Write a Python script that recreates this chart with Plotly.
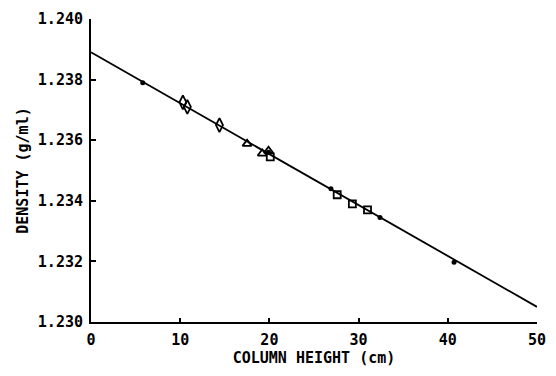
import plotly.graph_objects as go

# fitted line endpoints
line_x = [0, 50]
line_y = [1.2389, 1.2305]

# small filled dots
dot_x = [5.8, 19.9, 26.9, 32.4, 40.7]
dot_y = [1.2379, 1.23560, 1.2344, 1.23345, 1.23197]

# open diamonds
dia_x = [10.3, 10.8, 14.4]
dia_y = [1.23725, 1.2371, 1.2365]

# open triangles
tri_x = [17.5, 19.2, 19.9]
tri_y = [1.23588, 1.23556, 1.23565]

# open squares
sq_x = [20.1, 27.6, 29.3, 31.0]
sq_y = [1.23545, 1.2342, 1.2339, 1.2337]

x_ticks = [0, 10, 20, 30, 40, 50]
y_ticks = [1.230, 1.232, 1.234, 1.236, 1.238, 1.240]

FONT = "DejaVu Sans Mono"

fig = go.Figure()
fig.add_trace(go.Scatter(x=line_x, y=line_y, mode="lines",
                         line=dict(color="black", width=1.8), showlegend=False))
fig.add_trace(go.Scatter(x=dot_x, y=dot_y, mode="markers",
                         marker=dict(symbol="circle", size=5, color="black"), showlegend=False))
fig.add_trace(go.Scatter(x=dia_x, y=dia_y, mode="markers",
                         marker=dict(symbol="diamond-tall-open", size=10, color="black",
                                     line=dict(width=1.8)), showlegend=False))
fig.add_trace(go.Scatter(x=tri_x, y=tri_y, mode="markers",
                         marker=dict(symbol="triangle-up-open", size=8, color="black",
                                     line=dict(width=1.8)), showlegend=False))
fig.add_trace(go.Scatter(x=sq_x, y=sq_y, mode="markers",
                         marker=dict(symbol="square-open", size=7, color="black",
                                     line=dict(width=1.8)), showlegend=False))

fig.update_layout(
    width=556, height=376,
    margin=dict(l=91, r=10, t=17, b=54),
    paper_bgcolor="white", plot_bgcolor="white",
    font=dict(family=FONT, color="black", size=15, weight="bold"),
    xaxis=dict(range=[0, 50], tickvals=x_ticks, ticktext=[str(v) for v in x_ticks],
               showgrid=False, zeroline=False, showline=True, linecolor="black", linewidth=2,
               ticks="inside", ticklen=4, tickwidth=1.5, tickcolor="black",
               ticklabelstandoff=3,
               title=dict(text="COLUMN HEIGHT (cm)", font=dict(size=15, weight="bold"), standoff=4),
               tickfont=dict(size=15, weight="bold")),
    yaxis=dict(range=[1.230, 1.240], tickvals=y_ticks, ticktext=[f"{v:.3f}" for v in y_ticks],
               showgrid=False, zeroline=False, showline=True, linecolor="black", linewidth=2,
               ticks="inside", ticklen=5, tickwidth=1.5, tickcolor="black",
               ticklabelstandoff=3,
               title=dict(text="DENSITY (g/ml)", font=dict(size=15, weight="bold"), standoff=6),
               tickfont=dict(size=15, weight="bold")),
)

fig.write_html("out.html")
